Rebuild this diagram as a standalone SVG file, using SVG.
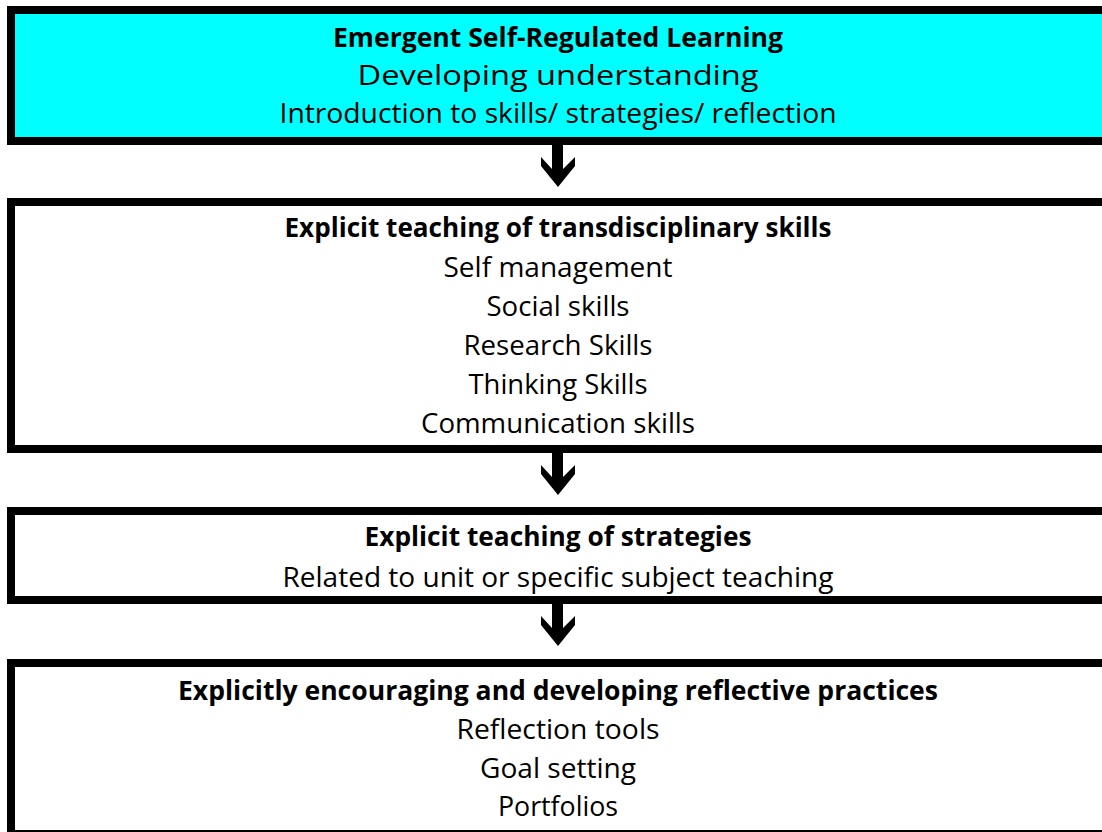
<svg xmlns="http://www.w3.org/2000/svg" width="1102" height="832" viewBox="0 0 1102 832">
<defs>
<style>
.box{fill:#ffffff;stroke:#000000;stroke-width:8}
.cyan{fill:#00ffff}
text{font-family:"Open Sans","Liberation Sans",sans-serif;font-size:27px;fill:#000000;text-anchor:middle}
.b{font-weight:bold;font-size:26px}
.arrow{fill:#000000}
</style>
<polygon id="dn" class="arrow" points="-6,0 5,0 5,24 17,12 17,21 0,42 -17,21 -17,12 -6,24"/>
</defs>
<rect width="1102" height="832" fill="#ffffff"/>
<g id="node1">
<rect class="box cyan" x="11" y="10" width="1100" height="131"/>
<text class="b" x="558" y="47" textLength="450" lengthAdjust="spacingAndGlyphs">Emergent Self-Regulated Learning</text>
<text x="558" y="85" textLength="401" lengthAdjust="spacingAndGlyphs">Developing understanding</text>
<text x="558" y="123" textLength="557" lengthAdjust="spacingAndGlyphs">Introduction to skills/ strategies/ reflection</text>
</g>
<g id="node2">
<rect class="box" x="11" y="202" width="1100" height="247"/>
<text class="b" x="558" y="237" textLength="547" lengthAdjust="spacingAndGlyphs">Explicit teaching of transdisciplinary skills</text>
<text x="558" y="277" textLength="229" lengthAdjust="spacingAndGlyphs">Self management</text>
<text x="558" y="316" textLength="143" lengthAdjust="spacingAndGlyphs">Social skills</text>
<text x="558" y="355" textLength="189" lengthAdjust="spacingAndGlyphs">Research Skills</text>
<text x="558" y="394" textLength="179" lengthAdjust="spacingAndGlyphs">Thinking Skills</text>
<text x="558" y="433" textLength="274" lengthAdjust="spacingAndGlyphs">Communication skills</text>
</g>
<g id="node3">
<rect class="box" x="11" y="511" width="1100" height="89"/>
<text class="b" x="558" y="546" textLength="387" lengthAdjust="spacingAndGlyphs">Explicit teaching of strategies</text>
<text x="558" y="587" textLength="551" lengthAdjust="spacingAndGlyphs">Related to unit or specific subject teaching</text>
</g>
<g id="node4">
<rect class="box" x="11" y="663" width="1100" height="171"/>
<text class="b" x="558" y="700" textLength="760" lengthAdjust="spacingAndGlyphs">Explicitly encouraging and developing reflective practices</text>
<text x="558" y="739" textLength="203" lengthAdjust="spacingAndGlyphs">Reflection tools</text>
<text x="558" y="778" textLength="156" lengthAdjust="spacingAndGlyphs">Goal setting</text>
<text x="558" y="816" textLength="120" lengthAdjust="spacingAndGlyphs">Portfolios</text>
</g>
<g id="connectors">
<use href="#dn" x="558" y="145"/>
<use href="#dn" x="558" y="453"/>
<use href="#dn" x="558" y="604"/>
</g>
</svg>
